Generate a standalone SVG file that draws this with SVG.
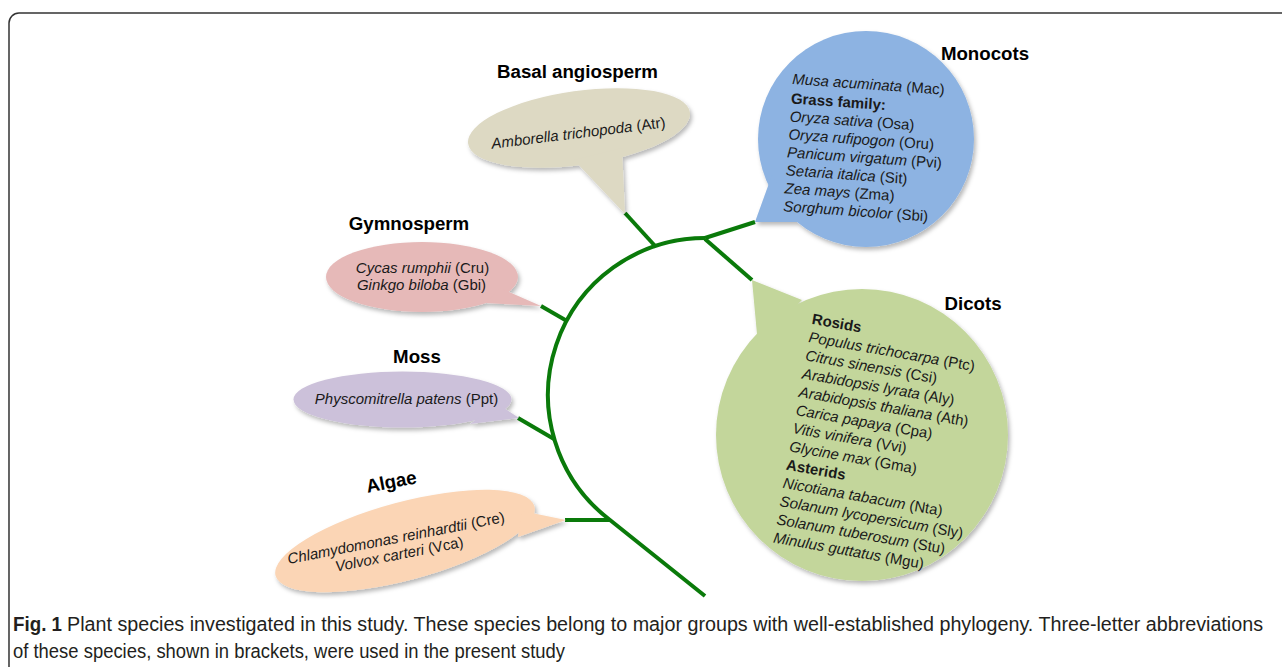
<svg xmlns="http://www.w3.org/2000/svg" width="1282" height="667" viewBox="0 0 1282 667">
<style>
.hdr{font-family:"Liberation Sans",Arial,sans-serif;font-weight:bold;font-size:18.7px;fill:#000}
.sp{font-family:"Liberation Sans",Arial,sans-serif;font-size:15px;fill:#1a1a1a}
.sb{font-weight:bold}
.it{font-style:italic}
.br{fill:none;stroke:#0a7a0a;stroke-width:4;stroke-linejoin:round}
.cap{font-family:"Liberation Sans",Arial,sans-serif;font-size:19.5px;fill:#231f20}
</style>
<defs>
<filter id="sh" x="-10%" y="-10%" width="125%" height="130%">
<feDropShadow dx="2" dy="3" stdDeviation="2.2" flood-color="#000" flood-opacity="0.28"/>
</filter>
</defs>
<rect x="9" y="13" width="1290" height="680" rx="10" ry="10" fill="#fff" stroke="#333" stroke-width="1.5"/>

<g id="connectors">
<path class="br" d="M705,238 A157,157 0 0 0 610,520 L705,596"/>
<path class="br" d="M705,238 L755,222"/>
<path class="br" d="M705,239 L752,280"/>
<path class="br" d="M656,247 L625,213"/>
<path class="br" d="M567,321 L541,306"/>
<path class="br" d="M554,439 L518,418"/>
<path class="br" d="M610,520 L565,520"/>
</g>

<g id="basal">
<g filter="url(#sh)" fill="#ddd9c3">
<ellipse cx="579" cy="128" rx="112" ry="37" transform="rotate(-8 579 128)"/>
<polygon points="574,160 625,214 622,148"/>
</g>
<text class="hdr" x="577.5" y="78" text-anchor="middle">Basal angiosperm</text>
<text class="sp" text-anchor="middle" transform="translate(579,138) rotate(-7)"><tspan class="it">Amborella trichopoda</tspan> (Atr)</text>
</g>

<g id="monocots">
<g filter="url(#sh)" fill="#8db3e2">
<circle cx="866" cy="139" r="108"/>
<polygon points="772,175 755,222 800,222"/>
</g>
<text class="hdr" x="985" y="60" text-anchor="middle">Monocots</text>
<g class="sp" transform="translate(792,84) rotate(4)">
<text class="sp"><tspan class="it">Musa acuminata</tspan> (Mac)</text>
<text class="sp sb" y="19.5">Grass family:</text>
<text class="sp" y="37.5"><tspan class="it">Oryza sativa</tspan> (Osa)</text>
<text class="sp" y="55.5"><tspan class="it">Oryza rufipogon</tspan> (Oru)</text>
<text class="sp" y="73.5"><tspan class="it">Panicum virgatum</tspan> (Pvi)</text>
<text class="sp" y="91.5"><tspan class="it">Setaria italica</tspan> (Sit)</text>
<text class="sp" y="109.5"><tspan class="it">Zea mays</tspan> (Zma)</text>
<text class="sp" y="127.5"><tspan class="it">Sorghum bicolor</tspan> (Sbi)</text>
</g>
</g>

<g id="gymnosperm">
<g filter="url(#sh)" fill="#e6b9b8">
<ellipse cx="422" cy="277" rx="96" ry="35"/>
<polygon points="500,288 541,306 486,303"/>
</g>
<text class="hdr" x="409" y="230" text-anchor="middle">Gymnosperm</text>
<text class="sp" x="422.5" y="273" text-anchor="middle"><tspan class="it">Cycas rumphii</tspan> (Cru)</text>
<text class="sp" x="421.5" y="290" text-anchor="middle"><tspan class="it">Ginkgo biloba</tspan> (Gbi)</text>
</g>

<g id="moss">
<g filter="url(#sh)" fill="#ccc1da">
<ellipse cx="402.5" cy="399.5" rx="109" ry="28"/>
<polygon points="498,404 519,418 470,424"/>
</g>
<text class="hdr" x="417" y="363" text-anchor="middle">Moss</text>
<text class="sp" x="406.5" y="404" text-anchor="middle"><tspan class="it">Physcomitrella patens</tspan> (Ppt)</text>
</g>

<g id="algae">
<g filter="url(#sh)" fill="#fbd5b5">
<ellipse cx="405" cy="541" rx="134" ry="39" transform="rotate(-15 405 541)"/>
<polygon points="522,511 566,520 518,537"/>
</g>
<text class="hdr" text-anchor="middle" transform="translate(392.5,488) rotate(-11)">Algae</text>
<g transform="translate(397,543) rotate(-11)">
<text class="sp" text-anchor="middle"><tspan class="it">Chlamydomonas reinhardtii</tspan> (Cre)</text>
<text class="sp" y="16.5" text-anchor="middle"><tspan class="it">Volvox carteri</tspan> (Vca)</text>
</g>
</g>

<g id="dicots">
<g filter="url(#sh)" fill="#c3d69b">
<circle cx="862" cy="435" r="146"/>
<polygon points="752,280 758,345 802,300"/>
</g>
<text class="hdr" x="973" y="310" text-anchor="middle">Dicots</text>
<g transform="translate(808,342) rotate(10)">
<text class="sp sb" y="-18.5">Rosids</text>
<text class="sp" y="0"><tspan class="it">Populus trichocarpa</tspan> (Ptc)</text>
<text class="sp" y="18.5"><tspan class="it">Citrus sinensis</tspan> (Csi)</text>
<text class="sp" y="37"><tspan class="it">Arabidopsis lyrata</tspan> (Aly)</text>
<text class="sp" y="55.5"><tspan class="it">Arabidopsis thaliana</tspan> (Ath)</text>
<text class="sp" y="74"><tspan class="it">Carica papaya</tspan> (Cpa)</text>
<text class="sp" y="92.5"><tspan class="it">Vitis vinifera</tspan> (Vvi)</text>
<text class="sp" y="111"><tspan class="it">Glycine max</tspan> (Gma)</text>
<text class="sp sb" y="129.5">Asterids</text>
<text class="sp" y="148"><tspan class="it">Nicotiana tabacum</tspan> (Nta)</text>
<text class="sp" y="166.5"><tspan class="it">Solanum lycopersicum</tspan> (Sly)</text>
<text class="sp" y="185"><tspan class="it">Solanum tuberosum</tspan> (Stu)</text>
<text class="sp" y="203.5"><tspan class="it">Minulus guttatus</tspan> (Mgu)</text>
</g>
</g>

<g id="caption">
<text class="cap" x="13" y="631" font-weight="bold" textLength="49" lengthAdjust="spacingAndGlyphs">Fig. 1</text>
<text class="cap" x="67" y="631" textLength="1196" lengthAdjust="spacingAndGlyphs">Plant species investigated in this study. These species belong to major groups with well-established phylogeny. Three-letter abbreviations</text>
<text class="cap" x="13" y="658" textLength="552" lengthAdjust="spacingAndGlyphs">of these species, shown in brackets, were used in the present study</text>
</g>
</svg>
